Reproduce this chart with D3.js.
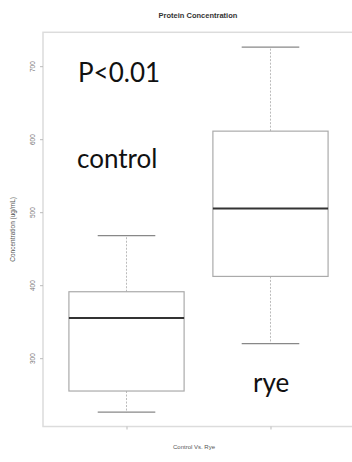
<!DOCTYPE html>
<html><head><meta charset="utf-8">
<script src="https://cdn.jsdelivr.net/npm/d3@7"></script>
<style>body{margin:0;background:#fff}svg{display:block}</style>
</head><body>
<svg id="c" width="352" height="462"></svg>
<script>
const groups = ["control", "rye"];
const positions = [1, 2];
const whiskerLow = [226, 320];
const q1 = [255, 412];
const median = [355, 505];
const q3 = [391, 611];
const whiskerHigh = [468, 726];
const yTicks = [300, 400, 500, 600, 700];
const title = "Protein Concentration";
const xTitle = "Control Vs. Rye";
const yTitle = "Concentration (ug/mL)";
const notes = [
  {text: "P<0.01", x: 0.663, y: 678},
  {text: "control", x: 0.656, y: 560},
  {text: "rye", x: 1.878, y: 253}
];

const svg = d3.select("#c");
const x = d3.scaleLinear().domain([0.42, 2.58]).range([43, 354]);
const y = d3.scaleLinear().domain([206.4, 746.4]).range([426.5, 32.3]);

// frame
svg.append("rect").attr("x", x(0.42)).attr("y", y(746.4))
  .attr("width", x(2.58) - x(0.42)).attr("height", y(206.4) - y(746.4))
  .attr("fill", "none").attr("stroke", "#dcdcdc").attr("stroke-width", 1.5);

// y axis
const ya = svg.append("g").attr("transform", `translate(${x(0.42)},0)`)
  .call(d3.axisLeft(y).tickValues(yTicks).tickSize(3).tickPadding(4));
ya.select(".domain").remove();
ya.selectAll(".tick line").attr("stroke", "#bbb");
ya.selectAll(".tick text").attr("fill", "#777").attr("font-family", "Liberation Sans, Arial")
  .attr("font-size", 6.5).attr("text-anchor", "middle")
  .attr("transform", "rotate(-90) translate(0,-10)").attr("x", 0).attr("dy", "0.32em");

// x axis ticks
const xa = svg.append("g").attr("transform", `translate(0,${y(206.4)})`)
  .call(d3.axisBottom(x).tickValues(positions).tickSize(3).tickFormat(""));
xa.select(".domain").remove();
xa.selectAll(".tick line").attr("stroke", "#bbb");

const bw = 0.4;
const g = svg.append("g");
groups.forEach((name, i) => {
  const p = positions[i];
  g.append("line").attr("x1", x(p)).attr("x2", x(p)).attr("y1", y(q3[i])).attr("y2", y(whiskerHigh[i]))
    .attr("stroke", "#bbb").attr("stroke-dasharray", "2,1.5");
  g.append("line").attr("x1", x(p)).attr("x2", x(p)).attr("y1", y(q1[i])).attr("y2", y(whiskerLow[i]))
    .attr("stroke", "#bbb").attr("stroke-dasharray", "2,1.5");
  [whiskerHigh[i], whiskerLow[i]].forEach(v => {
    g.append("line").attr("x1", x(p - bw / 2)).attr("x2", x(p + bw / 2)).attr("y1", y(v)).attr("y2", y(v))
      .attr("stroke", "#888").attr("stroke-width", 1.2);
  });
  g.append("rect").attr("x", x(p - bw)).attr("y", y(q3[i]))
    .attr("width", x(p + bw) - x(p - bw)).attr("height", y(q1[i]) - y(q3[i]))
    .attr("fill", "#fff").attr("stroke", "#aaa").attr("stroke-width", 1.2);
  g.append("line").attr("x1", x(p - bw)).attr("x2", x(p + bw)).attr("y1", y(median[i])).attr("y2", y(median[i]))
    .attr("stroke", "#333").attr("stroke-width", 1.8);
});

svg.append("text").attr("x", 198).attr("y", 18).attr("text-anchor", "middle")
  .attr("font-family", "Liberation Sans, Arial").attr("font-weight", "bold").attr("font-size", 7.5)
  .attr("fill", "#333").text(title);
svg.append("text").attr("x", 194).attr("y", 449).attr("text-anchor", "middle")
  .attr("font-family", "Liberation Sans, Arial").attr("font-size", 6).attr("fill", "#555").text(xTitle);
svg.append("text").attr("transform", `translate(15,${(y(206.4) + y(746.4)) / 2}) rotate(-90)`)
  .attr("text-anchor", "middle")
  .attr("font-family", "Liberation Sans, Arial").attr("font-size", 6.5).attr("fill", "#555").text(yTitle);

notes.forEach(n => {
  svg.append("text").attr("x", x(n.x)).attr("y", y(n.y))
    .attr("font-family", "Lato, Open Sans, sans-serif").attr("font-size", 26).attr("fill", "#111").text(n.text);
});
</script>
</body></html>
